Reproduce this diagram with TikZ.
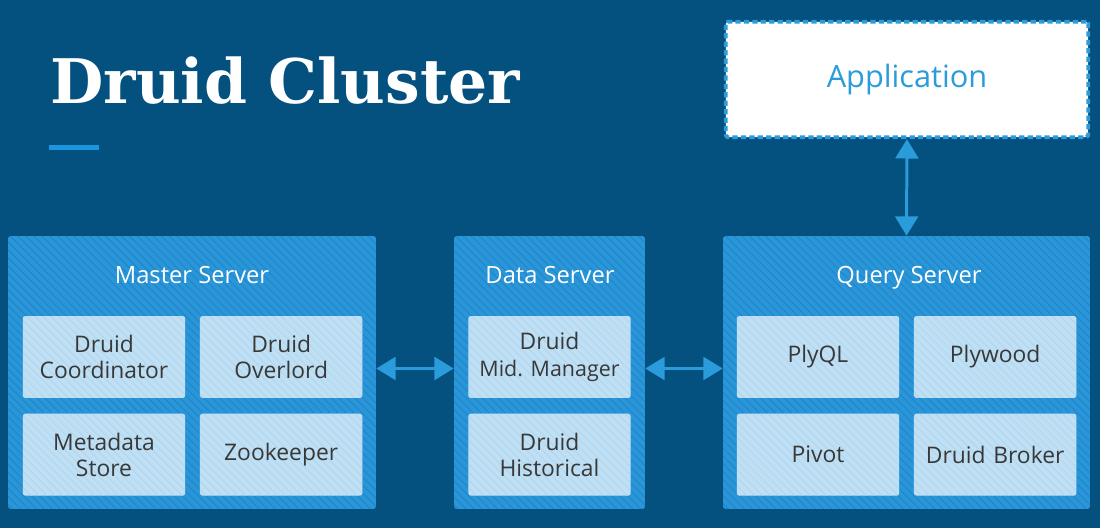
\documentclass[tikz,border=0pt]{standalone}
\usepackage{fontspec}
\setmainfont{Open Sans}
\newfontfamily\slabfont{DejaVu Serif}
\usetikzlibrary{positioning,arrows.meta,patterns.meta}

\definecolor{clusterbg}{RGB}{4,80,126}
\definecolor{serverblue}{RGB}{42,150,218}
\definecolor{hatchblue}{RGB}{33,132,196}
\definecolor{cellblue}{RGB}{191,224,244}
\definecolor{cellhatch}{RGB}{177,213,237}
\definecolor{linkblue}{RGB}{42,155,219}
\definecolor{barblue}{RGB}{26,150,224}
\definecolor{celltext}{RGB}{56,56,56}

\begin{document}
\begin{tikzpicture}[x=0.02cm,y=-0.02cm]
  \tikzset{
    serverbox/.style={fill=serverblue, rounded corners=1.5pt, minimum height=5.46cm, anchor=center,
      postaction={pattern={Lines[angle=-45,distance=3.2pt,line width=0.5pt]}, pattern color=hatchblue}},
    servertitle/.style={text=white, font=\fontsize{13.5}{16}\selectfont, anchor=base},
    cellbox/.style={fill=cellblue, rounded corners=1.5pt, minimum width=3.25cm, minimum height=1.64cm,
      text width=3cm, inner sep=2pt, align=center, text=celltext, font=\fontsize{13}{15}\selectfont,
      postaction={pattern={Lines[angle=-45,distance=3.2pt,line width=0.5pt]}, pattern color=cellhatch}},
    appbox/.style={fill=white, draw=linkblue, line width=2.2pt, dash pattern=on 3pt off 1.8pt,
      rounded corners=1pt, minimum width=7.25cm, minimum height=2.31cm, text=linkblue,
      font=\fontsize{17.5}{20}\selectfont},
    linkarrow/.style={draw=linkblue, line width=1.7pt,
      {Triangle[width=13pt,length=11pt]}-{Triangle[width=13pt,length=11pt]}}
  }
  \useasboundingbox (0,0) rectangle (1100,528);
  \fill[clusterbg] (0,0) rectangle (1100,528);

  % Title and bar
  \node[anchor=base west, inner sep=0, text=white, font=\slabfont\bfseries\fontsize{35}{40}\selectfont] (title) at (50,103) {Druid Cluster};
  \fill[barblue] (49,145) rectangle (99,150);

  % Server boxes
  \node[serverbox, minimum width=7.36cm] (master) at (192,372.5) {};
  \node[serverbox, minimum width=3.82cm] (data) at (549.5,372.5) {};
  \node[serverbox, minimum width=7.34cm] (query) at (906.5,372.5) {};
  \node[servertitle] (mastertitle) at (192,283) {Master Server};
  \node[servertitle] (datatitle) at (550,283) {Data Server};
  \node[servertitle] (querytitle) at (909,283) {Query Server};

  % Master server parts
  \node[cellbox] (coordinator) at (104,357) {Druid\\Coordinator};
  \node[cellbox, right=0.28cm of coordinator] (overlord) {Druid\\Overlord};
  \node[cellbox, below=0.3cm of coordinator] (metadata) {Metadata\\Store};
  \node[cellbox, below=0.3cm of overlord] (zookeeper) {Zookeeper};

  % Data server parts
  \node[cellbox] (midmanager) at (549.5,357) {Druid\\{\fontsize{12.2}{15}\selectfont Mid.\ Manager}};
  \node[cellbox, below=0.3cm of midmanager] (historical) {Druid\\Historical};

  % Query server parts
  \node[cellbox] (plyql) at (818,357) {PlyQL};
  \node[cellbox, right=0.28cm of plyql] (plywood) {Plywood};
  \node[cellbox, below=0.3cm of plyql] (pivot) {Pivot};
  \node[cellbox, below=0.3cm of plywood] (broker) {Druid Broker};

  % Application
  \node[appbox] (app) at (907,79.5) {Application};

  % Links
  \draw[linkarrow] (app.south) -- (query.north);
  \draw[linkarrow] ([yshift=0.08cm]master.east) -- ([yshift=0.08cm]data.west);
  \draw[linkarrow] ([yshift=0.08cm]data.east) -- ([yshift=0.08cm]query.west);
\end{tikzpicture}
\end{document}
